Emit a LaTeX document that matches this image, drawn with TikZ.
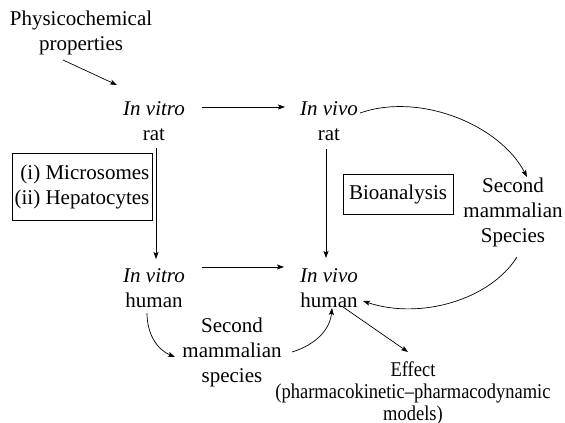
\documentclass[tikz,border=0pt]{standalone}
\usepackage{fontspec}
\setmainfont{Liberation Serif}
\newfontfamily\narrowserif[FakeStretch=0.88,Ligatures=TeX]{Liberation Serif}
\usetikzlibrary{arrows.meta}

\begin{document}
\begin{tikzpicture}[x=1pt,y=-1pt,
  every node/.style={font=\fontsize{21}{25}\selectfont, inner sep=1pt},
  label/.style={align=center, anchor=base},
  framed/.style={draw, line width=0.7pt, inner sep=2pt},
  arr/.style={line width=0.7pt, -{Stealth[length=7pt,width=5pt,inset=1.5pt]}}
]
\useasboundingbox (0,0) rectangle (565,423);

% text nodes, placed at the baseline of their last line
\node[label] (phys)     at (81,50)   {Physicochemical\\properties};
\node[label] (vitrorat) at (154,140) {\textit{In vitro}\\rat};
\node[label] (vivorat)  at (329,140) {\textit{In vivo}\\rat};
\node[label] (secR)     at (513,242) {Second\\mammalian\\Species};
\node[label] (vitrohum) at (154,307) {\textit{In vitro}\\human};
\node[label] (vivohum)  at (329,307) {\textit{In vivo}\\human};
\node[label] (secB)     at (232,382) {Second\\mammalian\\species};
\node[label, font=\narrowserif\fontsize{21}{22}\selectfont] (effect) at (413,420)
  {Effect\\(pharmacokinetic–pharmacodynamic\\models)};

% framed notes
\node[framed, align=right, minimum width=140pt, minimum height=67pt] (micro) at (82,186.5)
  {(i) Microsomes\\(ii) Hepatocytes};
\node[framed, minimum width=110pt, minimum height=40pt] (bio) at (398,194) {Bioanalysis};

% straight connectors
\draw[arr] ([xshift=-18pt,yshift=-10pt]phys.base) -- ([xshift=-37pt,yshift=55pt]vitrorat.base);
\draw[arr] ([xshift=48pt,yshift=33pt]vitrorat.base) -- ([xshift=-44pt,yshift=33pt]vivorat.base);
\draw[arr] ([xshift=2pt,yshift=-8pt]vitrorat.base) -- ([xshift=2pt,yshift=48pt]vitrohum.base);
\draw[arr] ([xshift=-3pt,yshift=-9pt]vivorat.base) -- ([xshift=-3pt,yshift=49pt]vivohum.base);
\draw[arr] ([xshift=48pt,yshift=40pt]vitrohum.base) -- ([xshift=-45pt,yshift=40pt]vivohum.base);
\draw[arr] ([xshift=14pt,yshift=0pt]vivohum.base) -- ([xshift=-5pt,yshift=68pt]effect.base);

% curved connectors
\draw[arr] ([xshift=31pt,yshift=27pt]vivorat.base)
  .. controls (420,92) and (500,125) .. ([xshift=14pt,yshift=65pt]secR.base);
\draw[arr] ([xshift=4pt,yshift=-15pt]secR.base)
  .. controls (490,300) and (420,320) .. ([xshift=34pt,yshift=6pt]vivohum.base);
\draw[arr] ([xshift=-7pt,yshift=-6pt]vitrohum.base)
  .. controls (147,335) and (158,350) .. ([xshift=-57pt,yshift=25pt]secB.base);
\draw[arr] ([xshift=60pt,yshift=30pt]secB.base)
  .. controls (315,345) and (330,330) .. ([xshift=3pt,yshift=-1pt]vivohum.base);
\end{tikzpicture}
\end{document}
